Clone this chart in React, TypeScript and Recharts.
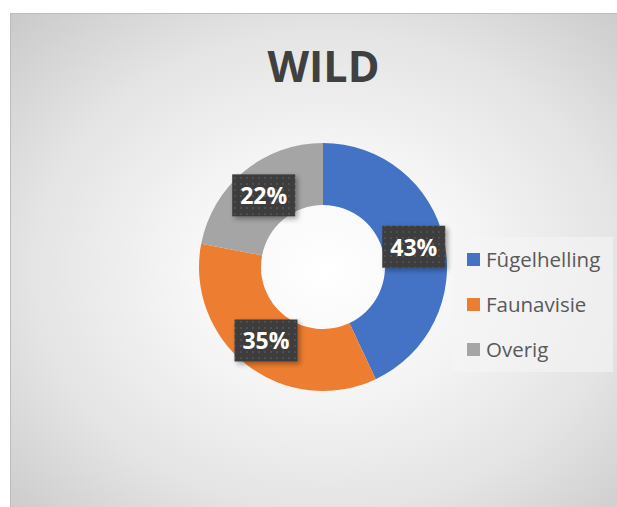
import React from "react";
import { PieChart, Pie, Cell, Legend } from "recharts";

const categories = ["Fûgelhelling", "Faunavisie", "Overig"];
const values = [43, 35, 22];
const colors = ["#4472C4", "#ED7D31", "#A5A5A5"];
const title = "WILD";

const data = categories.map((name, i) => ({ name, value: values[i] }));

const RADIAN = Math.PI / 180;
const FONT = "'Open Sans', 'Noto Sans', sans-serif";

const renderLabel = (props: any) => {
  const { cx, cy, midAngle, innerRadius, outerRadius, value, index } = props;
  const r = (innerRadius + outerRadius) / 2;
  const x = cx + r * Math.cos(-midAngle * RADIAN);
  const y = cy + r * Math.sin(-midAngle * RADIAN);
  const w = 63;
  const h = 42;
  return (
    <g key={`lbl-${index}`}>
      {index === 0 && (
        <defs>
          <pattern id="dotpat" width="6" height="6" patternUnits="userSpaceOnUse">
            <rect width="6" height="6" fill="#3d3d3d" />
            <circle cx="3" cy="3" r="1.1" fill="#545454" />
          </pattern>
          <filter id="lblshadow" x="-30%" y="-30%" width="170%" height="170%">
            <feDropShadow dx="2.5" dy="2.5" stdDeviation="2.5" floodColor="#000" floodOpacity="0.35" />
          </filter>
        </defs>
      )}
      <rect x={x - w / 2} y={y - h / 2} width={w} height={h} fill="url(#dotpat)" filter="url(#lblshadow)" />
      <text
        x={x}
        y={y}
        fill="#ffffff"
        textAnchor="middle"
        dominantBaseline="central"
        fontFamily={FONT}
        fontWeight={700}
        fontSize={23}
      >
        {`${value}%`}
      </text>
    </g>
  );
};

const renderLegend = () => (
  <div
    style={{
      width: 160,
      height: 135,
      background: "rgba(245,245,245,0.6)",
      position: "relative",
    }}
  >
    {data.map((d, i) => (
      <div
        key={d.name}
        style={{
          position: "absolute",
          left: 14,
          top: 22 + i * 45 - 12,
          height: 24,
          display: "flex",
          alignItems: "center",
        }}
      >
        <div style={{ width: 13, height: 13, background: colors[i], marginRight: 6 }} />
        <span style={{ fontFamily: FONT, fontSize: 20.5, color: "#595959", lineHeight: "24px" }}>{d.name}</span>
      </div>
    ))}
  </div>
);

export default function App() {
  return (
    <div style={{ position: "absolute", left: 0, top: 0, width: 617, height: 507, background: "#ffffff", overflow: "hidden" }}>
      <div
        style={{
          position: "absolute",
          left: 10,
          top: 13,
          width: 607,
          height: 494,
          boxSizing: "border-box",
          borderLeft: "1px solid #bdbdbd",
          borderTop: "1px solid #bdbdbd",
          background:
            "radial-gradient(ellipse 75% 75% at 52% 52%, #ffffff 0%, #f6f6f6 30%, #e4e4e4 65%, #c8c8c8 100%)",
        }}
      >
        <div
          style={{
            position: "absolute",
            left: 0,
            width: 625,
            top: 22,
            textAlign: "center",
            fontFamily: FONT,
            fontWeight: 700,
            fontSize: 43,
            color: "#404040",
            lineHeight: "60px",
          }}
        >
          {title}
        </div>
        <div style={{ position: "absolute", left: -1, top: -1 }}>
          <PieChart width={607} height={494}>
            <Pie
              data={data}
              dataKey="value"
              nameKey="name"
              cx={308}
              cy={249}
              innerRadius={62}
              outerRadius={124}
              startAngle={90}
              endAngle={-270}
              stroke="none"
              labelLine={false}
              label={renderLabel}
              isAnimationActive={false}
            >
              {data.map((d, i) => (
                <Cell key={d.name} fill={colors[i]} />
              ))}
            </Pie>
            <Legend
              content={renderLegend}
              wrapperStyle={{ position: "absolute", left: 443, top: 224, width: 160, height: 135 }}
            />
          </PieChart>
        </div>
      </div>
    </div>
  );
}
